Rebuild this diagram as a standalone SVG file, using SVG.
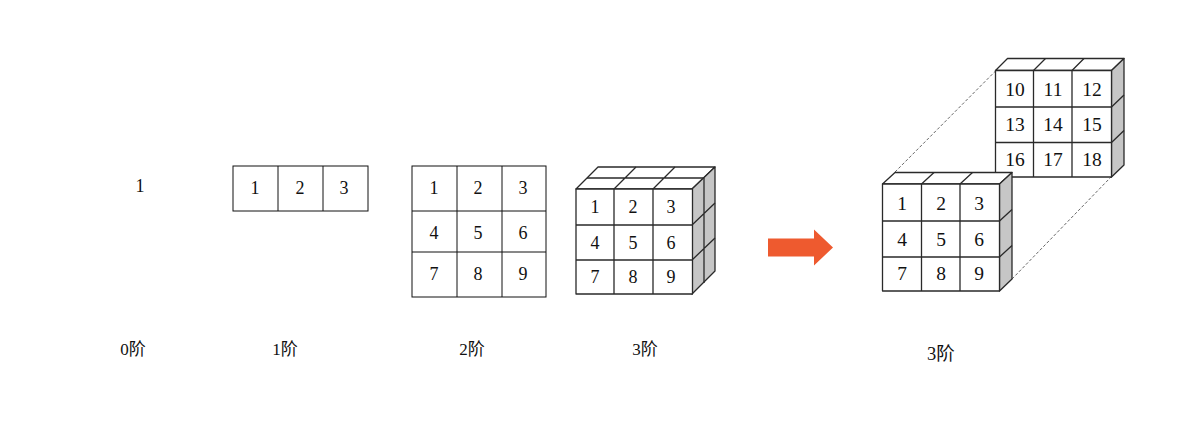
<svg xmlns="http://www.w3.org/2000/svg" width="1186" height="422" viewBox="0 0 1186 422">
<style>
.g{fill:#fff;stroke:#111;stroke-width:1}
.c{fill:#fff;stroke:#2a2a2a;stroke-width:1.3;stroke-linejoin:round}
.l{fill:none;stroke:#2a2a2a;stroke-width:1.3}
.s{fill:#c6c6c6;stroke:#2a2a2a;stroke-width:1.3;stroke-linejoin:round}
.d{fill:none;stroke:#666;stroke-width:1;stroke-dasharray:3 2}
text{font-family:"Liberation Serif","Noto Sans CJK SC",serif;fill:#111;text-anchor:middle}
.n{font-size:18px}
.b{font-size:19.5px}
.t{font-size:17px}
.u{font-size:18.5px}
</style>
<rect width="1186" height="422" fill="#fff"/>
<g id="connectors">
<path class="d" d="M895 172L995.500 71"/>
<path class="d" d="M1012 279L1111 177"/>
</g>
<g id="order0">
<text class="n" x="140" y="192">1</text>
<text class="t" x="133" y="355">0阶</text>
</g>
<g id="order1">
<rect class="g" x="233" y="166" width="135" height="45"/>
<path class="g" d="M278 166V211M323 166V211"/>
<text class="n" x="255" y="194">1</text>
<text class="n" x="300" y="194">2</text>
<text class="n" x="344" y="194">3</text>
<text class="t" x="285" y="355">1阶</text>
</g>
<g id="order2">
<rect class="g" x="412" y="166" width="134" height="131"/>
<path class="g" d="M457 166V297M502 166V297M412 211H546M412 252H546"/>
<text class="n" x="434" y="194">1</text><text class="n" x="478" y="194">2</text><text class="n" x="523" y="194">3</text>
<text class="n" x="434" y="239">4</text><text class="n" x="478" y="239">5</text><text class="n" x="523" y="239">6</text>
<text class="n" x="434" y="280">7</text><text class="n" x="478" y="280">8</text><text class="n" x="523" y="280">9</text>
<text class="t" x="472" y="355">2阶</text>
</g>
<g id="order3">
<path class="c" d="M576 189L598 167H715L692 189Z"/>
<path class="l" d="M587 178H704M614 189L636 167M653 189L675 167"/>
<path class="s" d="M692 189L715 167V271L692 294Z"/>
<path class="l" d="M704 178V283M692 225L715 203M692 260L715 238"/>
<rect class="c" x="576" y="189" width="116.500" height="105"/>
<path class="l" d="M614 189V294M653 189V294M576 225H692.500M576 260H692.500"/>
<text class="n" x="595" y="213">1</text><text class="n" x="633" y="213">2</text><text class="n" x="671" y="213">3</text>
<text class="n" x="595" y="249">4</text><text class="n" x="633" y="249">5</text><text class="n" x="671" y="249">6</text>
<text class="n" x="595" y="283">7</text><text class="n" x="633" y="283">8</text><text class="n" x="671" y="283">9</text>
<text class="t" x="645" y="355">3阶</text>
</g>
<g id="arrow">
<path d="M768 238.500H814V229.500L833 247.500L814 265.500V256.500H768Z" fill="#ee5a2f"/>
</g>
<g id="back-slice">
<path class="c" d="M995.500 70.500L1007.500 58.500H1124L1111.500 70.500Z"/>
<path class="l" d="M1033.500 70.500L1045.500 58.500M1072 70.500L1084 58.500"/>
<path class="s" d="M1111.500 70.500L1124 58.500V165L1111.500 177Z"/>
<path class="l" d="M1111.500 107L1124 95M1111.500 142.500L1124 130.500"/>
<rect class="c" x="995.500" y="70.500" width="116" height="106.500"/>
<path class="l" d="M1033.500 70.500V177M1072 70.500V177M995.500 107H1111.500M995.500 142.500H1111.500"/>
<text class="b" x="1015" y="96">10</text><text class="b" x="1053" y="96">11</text><text class="b" x="1092" y="96">12</text>
<text class="b" x="1015" y="131">13</text><text class="b" x="1053" y="131">14</text><text class="b" x="1092" y="131">15</text>
<text class="b" x="1015" y="166">16</text><text class="b" x="1053" y="166">17</text><text class="b" x="1092" y="166">18</text>
</g>
<g id="front-slice">
<path class="c" d="M882.500 184L895 172.500H1012L999.500 184Z"/>
<path class="l" d="M921.500 184L934 172.500M960 184L972.500 172.500"/>
<path class="s" d="M999.500 184L1012 172.500V279L999.500 291Z"/>
<path class="l" d="M999.500 221L1012 209.500M999.500 257L1012 245.500"/>
<rect class="c" x="882.500" y="184" width="117" height="107"/>
<path class="l" d="M921.500 184V291M960 184V291M882.500 221H999.500M882.500 257H999.500"/>
<text class="b" x="902" y="210">1</text><text class="b" x="941" y="210">2</text><text class="b" x="979" y="210">3</text>
<text class="b" x="902" y="246">4</text><text class="b" x="941" y="246">5</text><text class="b" x="979" y="246">6</text>
<text class="b" x="902" y="280">7</text><text class="b" x="941" y="280">8</text><text class="b" x="979" y="280">9</text>
<text class="u" x="941" y="360">3阶</text>
</g>
</svg>
